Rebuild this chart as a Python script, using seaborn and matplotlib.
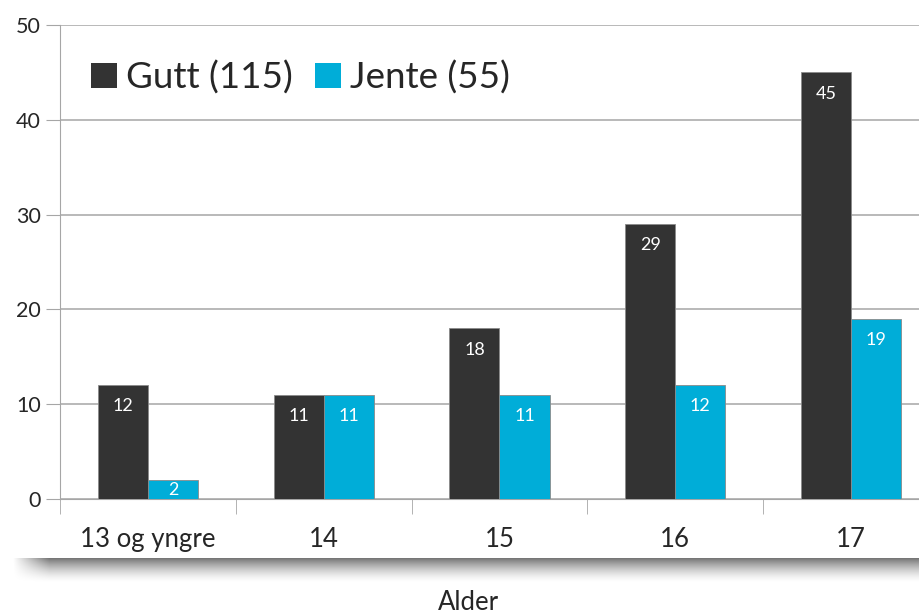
import numpy as np
import pandas as pd
import matplotlib
matplotlib.use("Agg")
import matplotlib.pyplot as plt
import seaborn as sns

# data
kategorier = ["13 og yngre", "14", "15", "16", "17"]
gutt = [12, 11, 18, 29, 45]
jente = [2, 11, 11, 12, 19]
serier = ["Gutt (115)", "Jente (55)"]
farger = ["#333333", "#00ADD8"]

df = pd.DataFrame({
    "alder": kategorier * 2,
    "antall": gutt + jente,
    "kjonn": [serier[0]] * len(gutt) + [serier[1]] * len(jente),
})

sns.set_style("white")
fonter = ["Lato", "DejaVu Sans"]
plt.rcParams["font.family"] = fonter

W, H = 920, 615
fig = plt.figure(figsize=(W / 100, H / 100), dpi=100)

# skygge under diagramboksen
sh = fig.add_axes([12 / W, (H - 588) / H, 1 - 12 / W, 32 / H], zorder=0)
ny, nx = 64, 400
vy = np.linspace(0, 1, ny)
prof_y = np.clip(1 - vy / 0.85, 0, 1) ** 1.6 * 0.62
vx = np.linspace(0, 1, nx)
prof_x = np.clip(vx / 0.04, 0, 1)
img = np.zeros((ny, nx, 4))
img[..., 3] = prof_y[:, None] * prof_x[None, :]
sh.imshow(img, aspect="auto", interpolation="bilinear", extent=[0, 1, 1, 0])
sh.axis("off")
box = fig.add_axes([12 / W, (H - 558) / H, 1 - 12 / W, 558 / H], zorder=1)
box.axis("off")
box.add_patch(plt.Rectangle((0, 0), 1, 1, color="white", transform=box.transAxes))

ax = fig.add_axes([60 / W, (H - 499) / H, 879 / W, 474 / H], zorder=2)
ax.set_facecolor("none")
sns.barplot(data=df, x="alder", y="antall", hue="kjonn", palette=farger,
            width=0.57, saturation=1, edgecolor="#8a8a8a", linewidth=0.6,
            ax=ax, zorder=3)

# verdier inne i stolpene, små stolper får etiketten midt i
for cont in ax.containers:
    verdier = cont.datavalues
    store = [f"{v:.0f}" if v >= 5 else "" for v in verdier]
    sma = [f"{v:.0f}" if v < 5 else "" for v in verdier]
    ax.bar_label(cont, labels=store, padding=-21, color="white", fontsize=13,
                 family=fonter)
    ax.bar_label(cont, labels=sma, label_type="center", color="white",
                 fontsize=13, family=fonter)

ax.set_ylim(0, 50)
ax.set_xlim(-0.5, 4.5)
ax.set_yticks(range(0, 51, 10))
ax.yaxis.grid(True, color="#a6a6a6", linewidth=1.1, zorder=0)
ax.set_axisbelow(True)
for s in ["top", "right"]:
    ax.spines[s].set_visible(False)
ax.spines["left"].set_color("#a6a6a6")
ax.spines["bottom"].set_color("#a6a6a6")
ax.tick_params(axis="y", length=10, color="#a6a6a6", labelsize=15.5, pad=4,
               direction="out", left=True)
ax.set_xticks(np.arange(-0.5, 4.6, 1), minor=True)
ax.tick_params(axis="x", which="minor", length=11, color="#a6a6a6",
               direction="out", bottom=True)
ax.tick_params(axis="x", which="major", length=0, labelsize=18.5, pad=20)
ax.set_xlabel("")
ax.set_ylabel("")

leg = ax.legend(loc="upper left", bbox_to_anchor=(0.006, 0.98), ncol=2,
                frameon=False, fontsize=26.5, handlelength=0.7,
                handleheight=0.7, handletextpad=0.25, columnspacing=0.6,
                borderaxespad=0.3)
for p in leg.get_patches():
    p.set_edgecolor("none")

fig.text(468 / W, (H - 603) / H, "Alder", ha="center", va="center",
         fontsize=18.5)

fig.savefig("out.png", dpi=100)
